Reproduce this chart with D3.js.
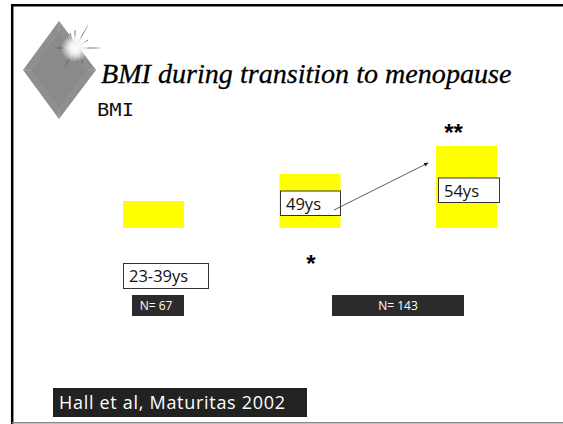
<!DOCTYPE html>
<html>
<head>
<meta charset="utf-8">
<script src="https://cdnjs.cloudflare.com/ajax/libs/d3/7.8.5/d3.min.js"></script>
<style>
html, body { margin: 0; padding: 0; background: #fff; }
svg { display: block; }
</style>
</head>
<body>
<svg width="563" height="424"></svg>
<script>
// bar heights, no axis in the original so units are relative
const categories = ["23-39ys", "49ys", "54ys"];
const barValues = [27, 54, 82];
const ageLabels = ["23-39ys", "49ys", "54ys"];
const countLabels = ["N= 67", "N= 143"];
const starLabels = ["*", "**"];

const hand = "'Open Sans', 'DejaVu Sans', sans-serif";
const svg = d3.select("svg");

// y runs up from the common base of the bars
const y = d3.scaleLinear().domain([0, 100]).range([228, 128]);
const x = d3.scalePoint().domain(categories).range([153.5, 466.5]);
const barW = 61;

// slide frame
svg.append("path").attr("d", "M12.2,424V5.3H563").attr("fill", "none").attr("stroke", "#000").attr("stroke-width", 2.5);
svg.append("line").attr("x1", 12).attr("x2", 563).attr("y1", 422.7).attr("y2", 422.7).attr("stroke", "#888").attr("stroke-width", 1.5);

// diamond bullet
svg.append("path").attr("d", "M59,21L96,70L59,119L23,70Z").attr("fill", "#8f8f8f");
svg.append("path").attr("d", "M59,31L88,70L59,109L31,70Z").attr("fill", "#8a8a8a").attr("stroke", "#9c9c9c").attr("stroke-width", 0.5);
svg.append("path").attr("d", "M59,21L59,31M96,70L88,70M59,119L59,109M23,70L31,70").attr("stroke", "#a8a8a8").attr("stroke-width", 0.8);

// sparkle on the diamond, rays go white at the core and fade at the tips
const defs = svg.append("defs");
const glow = defs.append("radialGradient").attr("id", "glow");
glow.append("stop").attr("offset", "0%").attr("stop-color", "#fff");
glow.append("stop").attr("offset", "40%").attr("stop-color", "#f4f4f4").attr("stop-opacity", 0.95);
glow.append("stop").attr("offset", "100%").attr("stop-color", "#fff").attr("stop-opacity", 0);
const rayFade = defs.append("radialGradient").attr("id", "rayFade")
    .attr("gradientUnits", "userSpaceOnUse").attr("cx", 75).attr("cy", 48).attr("r", 27);
rayFade.append("stop").attr("offset", "25%").attr("stop-color", "#ddd");
rayFade.append("stop").attr("offset", "55%").attr("stop-color", "#444");
rayFade.append("stop").attr("offset", "100%").attr("stop-color", "#bbb");
const rays = [[50, 48], [100, 48], [88, 25], [63, 70], [70, 33], [83, 63], [65, 38], [88, 40], [75, 30], [77, 62]];
const spark = svg.append("g");
spark.selectAll("line").data(rays).enter().append("line")
    .attr("x1", 75).attr("y1", 48)
    .attr("x2", d => d[0]).attr("y2", d => d[1])
    .attr("stroke", "url(#rayFade)").attr("stroke-width", 0.8);
spark.append("circle").attr("cx", 75).attr("cy", 48).attr("r", 14).attr("fill", "url(#glow)");

// title
svg.append("text").attr("x", 101).attr("y", 83)
    .attr("font-family", "'Liberation Serif', serif").attr("font-style", "italic").attr("font-size", 28.1)
    .attr("fill", "#000").attr("stroke", "#000").attr("stroke-width", 0.3).text("BMI during transition to menopause");
svg.append("text").attr("x", 97).attr("y", 116)
    .attr("font-family", "'DejaVu Sans Mono', monospace").attr("font-size", 17.5)
    .attr("textLength", 37).attr("lengthAdjust", "spacingAndGlyphs").attr("fill", "#111").text("BMI");

// bars
svg.selectAll("rect.bar").data(barValues).enter().append("rect")
    .attr("class", "bar")
    .attr("x", (d, i) => x(categories[i]) - barW / 2)
    .attr("width", barW)
    .attr("y", d => y(d))
    .attr("height", d => y(0) - y(d))
    .attr("fill", "#ffff00");

// age boxes
const boxes = [[123, 263, 85, 25], [280, 190.5, 60, 24.5], [438, 177.5, 61, 24.5]];
boxes.forEach((b, i) => {
    svg.append("rect").attr("x", b[0] + 0.5).attr("y", b[1] + 0.5).attr("width", b[2]).attr("height", b[3])
        .attr("fill", "#fff").attr("stroke", "#333").attr("stroke-width", 1);
    svg.append("text").attr("x", b[0] + 6).attr("y", b[1] + 19)
        .attr("font-family", hand).attr("font-size", 16.5).attr("fill", "#111").text(ageLabels[i]);
});

// arrow
defs.append("marker").attr("id", "head").attr("viewBox", "0 0 6 6").attr("refX", 5).attr("refY", 3)
    .attr("markerWidth", 6).attr("markerHeight", 6).attr("orient", "auto")
    .append("path").attr("d", "M0,0.5L6,3L0,5.5Z").attr("fill", "#222");
svg.append("line").attr("x1", 334).attr("y1", 210).attr("x2", 428).attr("y2", 163)
    .attr("stroke", "#333").attr("stroke-width", 0.8).attr("marker-end", "url(#head)");

// N boxes
const nBoxes = [[132, 295, 52, 21], [332, 295, 132, 21]];
nBoxes.forEach((b, i) => {
    svg.append("rect").attr("x", b[0]).attr("y", b[1]).attr("width", b[2]).attr("height", b[3]).attr("fill", "#2b2b2b");
    svg.append("text").attr("x", b[0] + b[2] / 2 + (i ? 0 : -2)).attr("y", b[1] + 15).attr("text-anchor", "middle")
        .attr("font-family", hand).attr("font-size", 12).attr("fill", "#fff").text(countLabels[i]);
});

// significance stars
svg.append("text").attr("x", 311).attr("y", 272).attr("text-anchor", "middle")
    .attr("font-family", "'Liberation Sans', sans-serif").attr("font-size", 24).attr("font-weight", "bold").attr("fill", "#000").text(starLabels[0]);
svg.append("text").attr("x", 453.5).attr("y", 141).attr("text-anchor", "middle")
    .attr("font-family", "'Liberation Sans', sans-serif").attr("font-size", 24).attr("font-weight", "bold").attr("fill", "#000").text(starLabels[1]);

// citation
svg.append("rect").attr("x", 53).attr("y", 388).attr("width", 254).attr("height", 29).attr("fill", "#222");
svg.append("text").attr("x", 59).attr("y", 409).attr("font-family", hand).attr("font-size", 18)
    .attr("textLength", 226).attr("fill", "#fff")
    .text("Hall et al, Maturitas 2002");
</script>
</body>
</html>
